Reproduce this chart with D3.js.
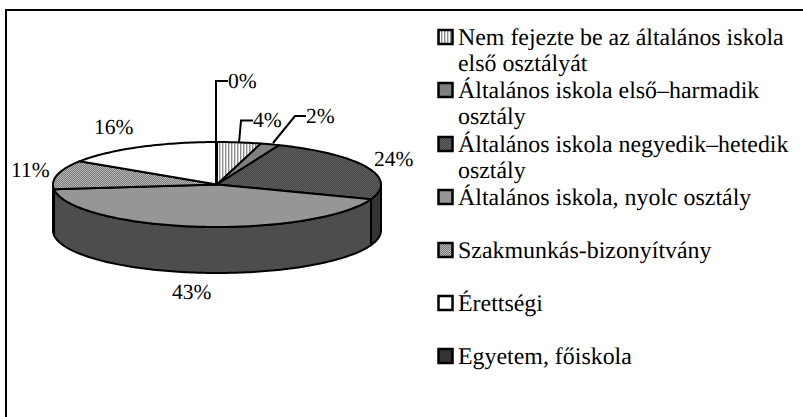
<!DOCTYPE html>
<html>
<head>
<meta charset="utf-8">
<script src="https://cdn.jsdelivr.net/npm/d3@7"></script>
<style>
	html, body { margin: 0; padding: 0; background: #fff; }
	svg { display: block; }
	text { font-family: "Liberation Serif", serif; fill: #000; text-rendering: geometricPrecision; }
	.value_label { font-size: 21.5px; }
	.legend_label { font-size: 23.9px; }
</style>
</head>
<body>
<div id="chart"></div>
<script>
const categories = [
	['Nem fejezte be az általános iskola', 'első osztályát'],
	['Általános iskola első–harmadik', 'osztály'],
	['Általános iskola negyedik–hetedik', 'osztály'],
	['Általános iskola, nyolc osztály'],
	['Szakmunkás-bizonyítvány'],
	['Érettségi'],
	['Egyetem, főiskola']
];
// slice sizes, clockwise from 12 o'clock; printed labels are rounded
const values = [4.3, 1.9, 24.4, 42.6, 11, 15.8, 0];
const valueLabels = ['4%', '2%', '24%', '43%', '11%', '16%', '0%'];
const fills = ['url(#p_vert)', '#808080', 'url(#p_dark)', '#969696', 'url(#p_dots)', '#ffffff', '#333333'];
const wallFills = ['#555', '#404040', '#333333', '#4d4d4d', '#4d4d4d', '#555', '#222'];
const legendY = [37, 90, 144, 197, 250, 303, 356];

const width = 803, height = 417;
const cx = 217, cy = 184.5, rx = 164, ry = 42.5, depth = 46;

const svg = d3.select('#chart').append('svg')
	.attr('width', width)
	.attr('height', height);

const defs = svg.append('defs');

defs.append('pattern')
	.attr('id', 'p_vert')
	.attr('patternUnits', 'userSpaceOnUse')
	.attr('width', 3).attr('height', 3)
	.call(p => {
		p.append('rect').attr('width', 3).attr('height', 3).attr('fill', '#fff');
		p.append('rect').attr('width', 1.4).attr('height', 3).attr('fill', '#8c8c8c');
	});

function dotPattern(id, bg, fg) {
	const p = defs.append('pattern')
		.attr('id', id)
		.attr('patternUnits', 'userSpaceOnUse')
		.attr('width', 2).attr('height', 2);
	p.append('rect').attr('width', 2).attr('height', 2).attr('fill', bg);
	p.append('rect').attr('width', 1).attr('height', 1).attr('fill', fg);
	p.append('rect').attr('x', 1).attr('y', 1).attr('width', 1).attr('height', 1).attr('fill', fg);
}
dotPattern('p_dark', '#4a4a4a', '#5c5c5c');
dotPattern('p_dots', '#7d7d7d', '#b4b4b4');

const line = d3.line();

// frame: only the top and left edges are inside the picture
svg.append('path')
	.attr('class', 'frame')
	.attr('d', line([[6, height], [6, 10], [width, 10]]))
	.attr('fill', 'none')
	.attr('stroke', '#000')
	.attr('stroke-width', 2);

const pie = d3.pie().sort(null).value(d => d.value)
	.startAngle(0).endAngle(2 * Math.PI);

const slices = pie(values.map((v, i) => ({value: v, i: i})));

function px(a) { return cx + rx * Math.sin(a); }
function py(a) { return cy - ry * Math.cos(a); }

function rimPoints(a0, a1) {
	const n = Math.max(2, Math.ceil(Math.abs(a1 - a0) / 0.02));
	return d3.range(n + 1).map(k => a0 + (a1 - a0) * k / n);
}

function topPath(s) {
	const pts = rimPoints(s.startAngle, s.endAngle).map(a => [px(a), py(a)]);
	return line([[cx, cy]].concat(pts)) + 'Z';
}

function wallPath(s) {
	const a0 = Math.max(s.startAngle, Math.PI / 2);
	const a1 = Math.min(s.endAngle, 3 * Math.PI / 2);
	if (a1 <= a0) return null;
	const front = rimPoints(a0, a1);
	const pts = front.map(a => [px(a), py(a)])
		.concat(front.slice().reverse().map(a => [px(a), py(a) + depth]));
	return line(pts) + 'Z';
}

const gPie = svg.append('g').attr('class', 'g_pie');

gPie.selectAll('.pie_wall')
	.data(slices.filter(s => wallPath(s)))
	.enter().append('path')
	.attr('class', 'pie_wall')
	.attr('d', wallPath)
	.attr('fill', s => wallFills[s.data.i])
	.attr('stroke', '#000')
	.attr('stroke-width', 2)
	.attr('stroke-linejoin', 'round');

gPie.selectAll('.pie_top')
	.data(slices.filter(s => s.value > 0))
	.enter().append('path')
	.attr('class', 'pie_top')
	.attr('d', topPath)
	.attr('fill', s => fills[s.data.i])
	.attr('stroke', '#000')
	.attr('stroke-width', 2)
	.attr('stroke-linejoin', 'round');

// labels, leader lines for the three thin slices
const labelPos = [
	{x: 253, y: 127},
	{x: 306, y: 123},
	{x: 374, y: 166},
	{x: 172, y: 299},
	{x: 11, y: 177},
	{x: 94, y: 134},
	{x: 228, y: 88}
];

svg.selectAll('.value_label')
	.data(valueLabels)
	.enter().append('text')
	.attr('class', 'value_label')
	.attr('x', (d, i) => labelPos[i].x)
	.attr('y', (d, i) => labelPos[i].y)
	.text(d => d);

const leaders = [
	[[239, 143], [241, 120.5], [253, 120.5]],
	[[273, 143], [295, 116], [306, 116]],
	[[216, 184], [216, 81], [228, 81]]
];
svg.selectAll('.leader')
	.data(leaders)
	.enter().append('path')
	.attr('class', 'leader')
	.attr('d', d => line(d))
	.attr('fill', 'none')
	.attr('stroke', '#000')
	.attr('stroke-width', 2);

// legend
const legend = svg.selectAll('.g_legend')
	.data(categories)
	.enter().append('g')
	.attr('class', 'g_legend')
	.attr('transform', (d, i) => 'translate(0,' + legendY[i] + ')');

legend.append('rect')
	.attr('x', 438.5).attr('y', -7)
	.attr('width', 14).attr('height', 14)
	.attr('fill', (d, i) => fills[i])
	.attr('stroke', '#000')
	.attr('stroke-width', 2.5);

legend.each(function(lines) {
	d3.select(this).selectAll('text')
		.data(lines)
		.enter().append('text')
		.attr('class', 'legend_label')
		.attr('x', 458)
		.attr('y', (d, i) => 7.5 + i * 26.5)
		.text(d => d);
});
</script>
</body>
</html>
